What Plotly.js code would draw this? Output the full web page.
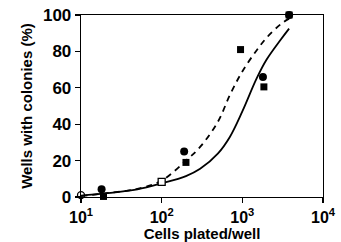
<!DOCTYPE html>
<html><head><meta charset="utf-8">
<script src="https://cdn.plot.ly/plotly-3.0.1.min.js"></script>
<style>html,body{margin:0;padding:0;background:#fff}</style>
</head><body><div id="chart" style="width:341px;height:242px"></div>
<script>
// Data points
const filledCircleX = [18, 190, 1800, 3800];
const filledCircleY = [4.2, 25, 66, 100];
const filledSquareX = [19, 200, 950, 1850, 3800];
const filledSquareY = [0.3, 19, 81, 60.5, 100];
const openCircleX = [10];
const openCircleY = [1];
const openSquareX = [100];
const openSquareY = [8.3];
// Curves
const solidX = [10, 20, 50, 100, 200, 300, 500, 700, 1000, 1500, 2000, 3000, 3800];
const solidY = [0.8, 2, 4.2, 7.5, 11.5, 15.5, 24, 33, 47, 65, 75.5, 86.5, 92.5];
const dashX = [10, 20, 50, 100, 200, 300, 500, 700, 1000, 1500, 2000, 3000, 3800];
const dashY = [0.5, 2, 4.5, 9, 20, 27.5, 41.5, 56, 69, 80.5, 87.5, 95, 98];
const xTickVals = [10, 100, 1000, 10000];
const xTickText = ['10<sup>1</sup>', '10<sup>2</sup>', '10<sup>3</sup>', '10<sup>4</sup>'];
const yTickVals = [0, 20, 40, 60, 80, 100];

const F = 'Liberation Sans, Arial, sans-serif';
const traces = [
  {x: solidX, y: solidY, mode: 'lines', line: {color: '#000', width: 1.8, shape: 'spline'}, cliponaxis: false},
  {x: dashX, y: dashY, mode: 'lines', line: {color: '#000', width: 1.8, dash: '6px,5px', shape: 'spline'}, cliponaxis: false},
  {x: filledSquareX, y: filledSquareY, mode: 'markers', marker: {symbol: 'square', size: 7, color: '#000'}, cliponaxis: false},
  {x: filledCircleX, y: filledCircleY, mode: 'markers', marker: {symbol: 'circle', size: 8, color: '#000'}, cliponaxis: false},
  {x: openCircleX, y: openCircleY, mode: 'markers', marker: {symbol: 'circle-open', size: 7, color: '#000', line: {width: 1.3}}, cliponaxis: false},
  {x: openSquareX, y: openSquareY, mode: 'markers', marker: {symbol: 'square', size: 7, color: '#fff', line: {width: 1.3, color: '#000'}}, cliponaxis: false}
];
const layout = {
  width: 341, height: 242,
  margin: {l: 81, r: 18, t: 15, b: 45},
  showlegend: false,
  paper_bgcolor: '#fff', plot_bgcolor: '#fff',
  font: {family: F, color: '#000'},
  xaxis: {
    type: 'log', range: [1, 4],
    tickvals: xTickVals, ticktext: xTickText,
    ticks: 'outside', ticklen: 5, tickwidth: 1.3, tickcolor: '#000',
    showline: true, linecolor: '#000', linewidth: 1.3, mirror: true,
    showgrid: false, zeroline: false,
    tickfont: {size: 16, family: F, weight: 'bold'},
    title: {text: '<b>Cells plated/well</b>', font: {size: 15, family: F}, standoff: 3}
  },
  yaxis: {
    range: [0, 100],
    tickvals: yTickVals,
    ticks: 'outside', ticklen: 5, tickwidth: 1.3, tickcolor: '#000',
    showline: true, linecolor: '#000', linewidth: 1.3, mirror: true,
    showgrid: false, zeroline: false,
    tickfont: {size: 17, family: F, weight: 'bold'},
    title: {text: '<b>Wells with colonies (%)</b>', font: {size: 15, family: F}, standoff: 6}
  }
};
Plotly.newPlot('chart', traces, layout, {staticPlot: true, displayModeBar: false});
</script></body></html>
